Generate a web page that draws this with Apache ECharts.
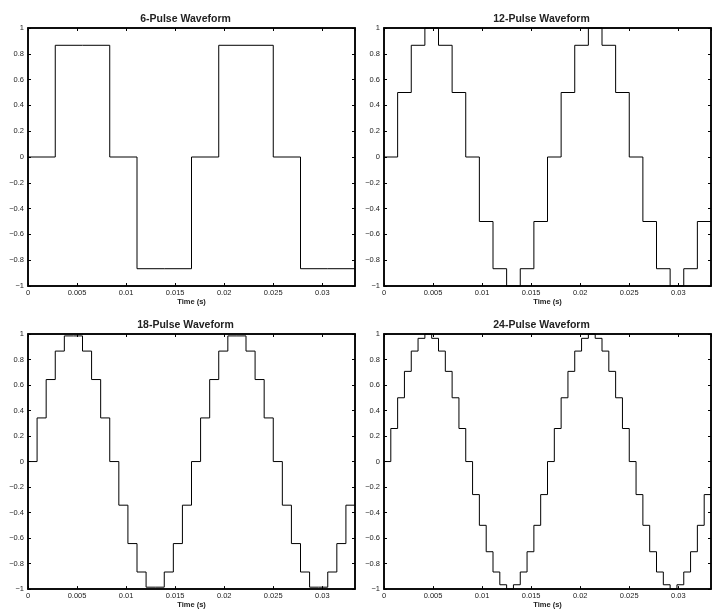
<!DOCTYPE html>
<html>
<head>
<meta charset="utf-8">
<script src="https://cdn.jsdelivr.net/npm/echarts@6/dist/echarts.min.js"></script>
<style>html,body{margin:0;padding:0;background:#fff}#c{width:717px;height:610px}</style>
</head>
<body>
<div id="c"></div>
<script>
// ---- data ----
const titles = ['6-Pulse Waveform', '12-Pulse Waveform', '18-Pulse Waveform', '24-Pulse Waveform'];
const xLabelName = 'Time (s)';
const yTicks = [1, 0.8, 0.6, 0.4, 0.2, 0, -0.2, -0.4, -0.6, -0.8, -1];
const xTicks = [0, 0.005, 0.01, 0.015, 0.02, 0.025, 0.03];

const t6 = [0, 0.002778, 0.005556, 0.008333, 0.011111, 0.013889, 0.016667, 0.019444, 0.022222, 0.025, 0.027778, 0.030556, 0.033333];
const v6 = [0, 0.866, 0.866, 0, -0.866, -0.866, 0, 0.866, 0.866, 0, -0.866, -0.866, -0.866];

const t12 = [0, 0.001389, 0.002778, 0.004167, 0.005556, 0.006944, 0.008333, 0.009722, 0.011111, 0.0125, 0.013889, 0.015278,
  0.016667, 0.018056, 0.019444, 0.020833, 0.022222, 0.023611, 0.025, 0.026389, 0.027778, 0.029167, 0.030556, 0.031944, 0.033333];
const v12 = [0, 0.5, 0.866, 1, 0.866, 0.5, 0, -0.5, -0.866, -1, -0.866, -0.5,
  0, 0.5, 0.866, 1, 0.866, 0.5, 0, -0.5, -0.866, -1, -0.866, -0.5, -0.5];

const t18 = [0, 0.000926, 0.001852, 0.002778, 0.003704, 0.00463, 0.005556, 0.006481, 0.007407, 0.008333, 0.009259, 0.010185,
  0.011111, 0.012037, 0.012963, 0.013889, 0.014815, 0.015741, 0.016667, 0.017593, 0.018519, 0.019444, 0.02037, 0.021296,
  0.022222, 0.023148, 0.024074, 0.025, 0.025926, 0.026852, 0.027778, 0.028704, 0.02963, 0.030556, 0.031481, 0.032407, 0.033333];
const v18 = [0, 0.342, 0.643, 0.866, 0.985, 0.985, 0.866, 0.643, 0.342, 0, -0.342, -0.643,
  -0.866, -0.985, -0.985, -0.866, -0.643, -0.342, 0, 0.342, 0.643, 0.866, 0.985, 0.985,
  0.866, 0.643, 0.342, 0, -0.342, -0.643, -0.866, -0.985, -0.985, -0.866, -0.643, -0.342, -0.342];

const t24 = [0, 0.000694, 0.001389, 0.002083, 0.002778, 0.003472, 0.004167, 0.004861, 0.005556, 0.00625, 0.006944, 0.007639,
  0.008333, 0.009028, 0.009722, 0.010417, 0.011111, 0.011806, 0.0125, 0.013194, 0.013889, 0.014583, 0.015278, 0.015972,
  0.016667, 0.017361, 0.018056, 0.01875, 0.019444, 0.020139, 0.020833, 0.021528, 0.022222, 0.022917, 0.023611, 0.024306,
  0.025, 0.025694, 0.026389, 0.027083, 0.027778, 0.028472, 0.029167, 0.029861, 0.030556, 0.03125, 0.031944, 0.032639, 0.033333];
const v24 = [0, 0.259, 0.5, 0.707, 0.866, 0.966, 1, 0.966, 0.866, 0.707, 0.5, 0.259,
  0, -0.259, -0.5, -0.707, -0.866, -0.966, -1, -0.966, -0.866, -0.707, -0.5, -0.259,
  0, 0.259, 0.5, 0.707, 0.866, 0.966, 1, 0.966, 0.866, 0.707, 0.5, 0.259,
  0, -0.259, -0.5, -0.707, -0.866, -0.966, -1, -0.966, -0.866, -0.707, -0.5, -0.259, -0.259];

const xMax = 0.033333;
// ---- chart ----
const times = [t6, t12, t18, t24];
const vals = [v6, v12, v18, v24];
const grids = [
  {left: 28, top: 28, width: 327, height: 258},
  {left: 384, top: 28, width: 327, height: 258},
  {left: 28, top: 334, width: 327, height: 257},
  {left: 384, top: 334, width: 327, height: 257}
];
const FONT = 'Liberation Sans, Arial, Helvetica, sans-serif';
const axisLine = {show: true, onZero: false, lineStyle: {color: '#000', width: 1.5}};
const tick = {show: true, inside: true, length: 3, lineStyle: {color: '#000', width: 1}};
const xFmt = v => {
  const r = Math.round(v * 1e6) / 1e6;
  return xTicks.some(t => Math.abs(t - r) < 1e-9) ? String(r) : '';
};
const yFmt = v => {
  const r = Math.round(v * 1e6) / 1e6;
  return r < 0 ? '\u2212' + String(-r) : String(r);
};

const option = {
  animation: false,
  backgroundColor: '#fff',
  title: grids.map((g, i) => ({
    text: titles[i],
    left: g.left + g.width / 2 - 6,
    top: g.top - 14,
    padding: 0,
    textAlign: 'center',
    textStyle: {fontFamily: FONT, fontSize: 10.5, fontWeight: 'bold', color: '#222'}
  })),
  grid: grids.map(g => Object.assign({show: true, borderColor: '#000', borderWidth: 1.5, backgroundColor: '#fff'}, g)),
  xAxis: [],
  yAxis: [],
  series: []
};
grids.forEach((g, i) => {
  option.xAxis.push({
    type: 'value', gridIndex: i, min: 0, max: xMax, interval: 0.005, position: 'bottom',
    axisLine, axisTick: tick, splitLine: {show: false},
    axisLabel: {show: true, showMaxLabel: false, margin: 3, formatter: xFmt, fontFamily: FONT, fontSize: 7.5, color: '#222'},
    name: xLabelName, nameLocation: 'middle', nameGap: 11,
    nameTextStyle: {fontFamily: FONT, fontSize: 7.5, fontWeight: 'bold', color: '#222'}
  });
  option.xAxis.push({
    type: 'value', gridIndex: i, min: 0, max: xMax, interval: 0.005, position: 'top',
    axisLine, axisTick: tick, axisLabel: {show: false}, splitLine: {show: false}
  });
  option.yAxis.push({
    type: 'value', gridIndex: i, min: -1, max: 1, interval: 0.2, position: 'left',
    axisLine, axisTick: tick, splitLine: {show: false},
    axisLabel: {show: true, margin: 4, formatter: yFmt, fontFamily: FONT, fontSize: 7.5, color: '#222'}
  });
  option.yAxis.push({
    type: 'value', gridIndex: i, min: -1, max: 1, interval: 0.2, position: 'right',
    axisLine, axisTick: tick, axisLabel: {show: false}, splitLine: {show: false}
  });
  option.series.push({
    type: 'line', step: 'end', xAxisIndex: 2 * i, yAxisIndex: 2 * i,
    data: times[i].map((t, k) => [t, vals[i][k]]),
    showSymbol: false, symbol: 'none', clip: false,
    lineStyle: {color: '#000', width: 1}
  });
});
const chart = echarts.init(document.getElementById('c'), null, {renderer: 'canvas'});
chart.setOption(option);
</script>
</body>
</html>
